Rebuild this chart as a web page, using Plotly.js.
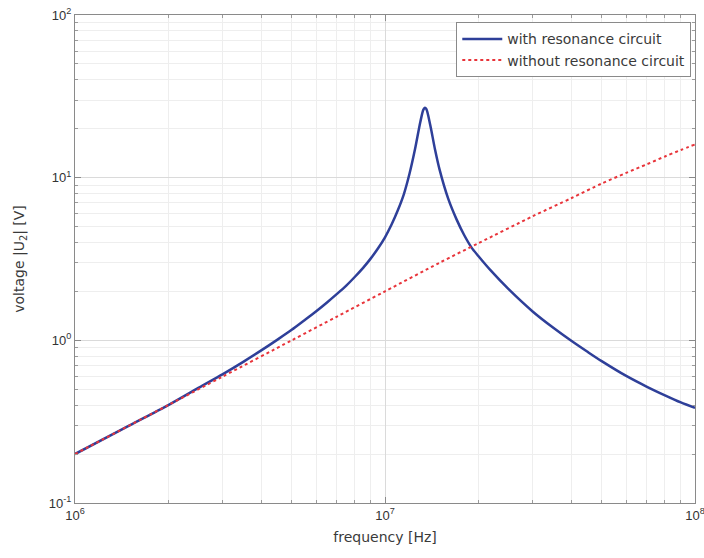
<!DOCTYPE html>
<html>
<head>
<meta charset="utf-8">
<script src="https://cdn.plot.ly/plotly-3.0.1.min.js"></script>
<style>html,body{margin:0;padding:0;background:#fff;}#chart{width:704px;height:558px;}</style>
</head>
<body>
<div id="chart"></div>
<script>
// frequency [Hz] and voltage |U2| [V]
const freqWith = [1e6,1.5e6,2e6,2.5e6,3e6,3.5e6,4e6,4.5e6,5e6,5.5e6,6e6,6.5e6,7e6,7.5e6,8e6,8.5e6,9e6,9.5e6,1e7,1.05e7,1.1e7,1.15e7,1.2e7,1.25e7,1.3e7,1.33e7,1.345e7,1.36e7,1.4e7,1.45e7,1.5e7,1.6e7,1.7e7,1.8e7,1.9e7,2e7,2.2e7,2.5e7,3e7,3.5e7,4e7,4.5e7,5e7,6e7,7e7,8e7,9e7,1e8];
const voltWith = [0.2,0.30,0.40,0.51,0.62,0.74,0.87,1.01,1.16,1.33,1.51,1.71,1.93,2.17,2.46,2.79,3.19,3.68,4.30,5.15,6.3,7.9,10.6,15.0,22.0,26.2,26.9,26.4,21,14.9,11.2,7.4,5.56,4.44,3.73,3.30,2.67,2.07,1.50,1.19,0.99,0.85,0.745,0.604,0.518,0.459,0.415,0.384];
const freqWithout = [1e6,2e6,3e6,5e6,7e6,1e7,1.5e7,2e7,3e7,4e7,5e7,6e7,7e7,8e7,9e7,1e8];
const voltWithout = [0.2,0.4,0.6,1.0,1.4,2.0,3.0,3.95,5.8,7.5,9.2,10.7,12.1,13.5,14.8,16];
const seriesNames = ["with resonance circuit","without resonance circuit"];
const xTickVals = [1e6,1e7,1e8];
const xTickText = ["10<sup>6</sup>","10<sup>7</sup>","10<sup>8</sup>"];
const yTickVals = [0.1,1,10,100];
const yTickText = ["10<sup>-1</sup>","10<sup>0</sup>","10<sup>1</sup>","10<sup>2</sup>"];

function minorVals(majors) {
  const out = [];
  for (let i = 0; i < majors.length - 1; i++) {
    for (let k = 2; k <= 9; k++) out.push(majors[i] * k);
  }
  return out;
}

const traces = [
  {x: freqWith, y: voltWith, name: seriesNames[0], type: "scatter", mode: "lines",
   line: {color: "#2e3f99", width: 2.5, shape: "spline", smoothing: 0.8}},
  {x: freqWithout, y: voltWithout, name: seriesNames[1], type: "scatter", mode: "lines",
   line: {color: "#e8343a", width: 2, dash: "dot", shape: "spline", smoothing: 0.8}}
];

const labelFont = {family: "DejaVu Sans, sans-serif", size: 14, color: "#3a3a3a"};
const tickFont = {family: "Liberation Sans, Arial, sans-serif", size: 13, color: "#333"};

function axis(range, tv, tt, title, standoff) {
  return {
    type: "log", range: range, tickvals: tv, ticktext: tt,
    showline: true, linecolor: "#8a8a8a", linewidth: 1, mirror: "ticks",
    ticks: "inside", ticklen: 6, tickcolor: "#8a8a8a",
    showgrid: true, gridcolor: "#dadada", gridwidth: 1, zeroline: false,
    tickfont: tickFont, ticklabeloverflow: "allow",
    minor: {tickvals: minorVals(tv), ticks: "inside", ticklen: 3, tickcolor: "#9a9a9a",
            showgrid: true, gridcolor: "#eeeeee", gridwidth: 1},
    title: {text: title, standoff: standoff, font: labelFont}
  };
}

const layout = {
  width: 704, height: 558,
  margin: {l: 75, r: 9, t: 15, b: 55},
  paper_bgcolor: "#fff", plot_bgcolor: "#fff",
  showlegend: true,
  legend: {x: 0.994, y: 0.985, xanchor: "right", yanchor: "top",
           bgcolor: "#fff", bordercolor: "#8a8a8a", borderwidth: 1,
           font: labelFont, itemwidth: 40, tracegroupgap: 0},
  xaxis: axis([6, 8], xTickVals, xTickText, "frequency [Hz]", 10),
  yaxis: axis([-1, 2], yTickVals, yTickText, "voltage |U<sub>2</sub>| [V]", 20)
};

Plotly.newPlot("chart", traces, layout, {displayModeBar: false, staticPlot: true});
</script>
</body>
</html>
